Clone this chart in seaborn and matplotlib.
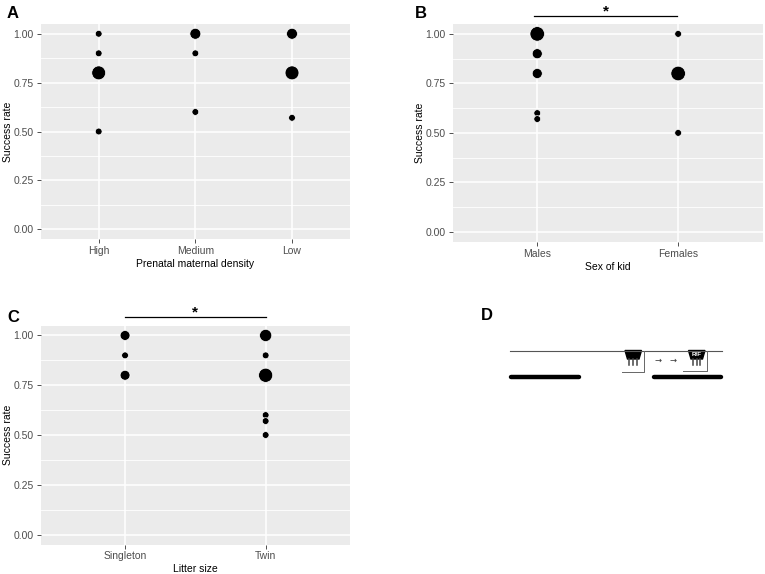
import matplotlib
matplotlib.use("Agg")
import matplotlib.pyplot as plt
import seaborn as sns
import pandas as pd
import numpy as np
from matplotlib.patches import Polygon, Rectangle

# ---------------- data ----------------
density_cats = ["High", "Medium", "Low"]
density_x = ["High", "High", "High", "High", "Medium", "Medium", "Medium", "Low", "Low", "Low"]
density_rate = [1.00, 0.90, 0.80, 0.50, 1.00, 0.90, 0.60, 1.00, 0.80, 0.57]
density_n = [1, 1, 3, 1, 2, 1, 1, 2, 3, 1]

sex_cats = ["Males", "Females"]
sex_x = ["Males", "Males", "Males", "Males", "Males", "Females", "Females", "Females"]
sex_rate = [1.00, 0.90, 0.80, 0.60, 0.57, 1.00, 0.80, 0.50]
sex_n = [4, 2, 2, 1, 1, 1, 4, 1]

litter_cats = ["Singleton", "Twin"]
litter_x = ["Singleton", "Singleton", "Singleton", "Twin", "Twin", "Twin", "Twin", "Twin", "Twin"]
litter_rate = [1.00, 0.90, 0.80, 1.00, 0.90, 0.80, 0.60, 0.57, 0.50]
litter_n = [2, 1, 2, 3, 1, 4, 1, 1, 1]

y_ticks = [0.00, 0.25, 0.50, 0.75, 1.00]
y_minor = [0.125, 0.375, 0.625, 0.875]

W, H = 765, 574
fig = plt.figure(figsize=(W / 100, H / 100), dpi=100)
FONT = ["Liberation Sans", "DejaVu Sans"]
plt.rcParams["font.family"] = FONT


def ax_rect(l, t, r, b):
    return [l / W, 1 - b / H, (r - l) / W, (b - t) / H]


def gg_panel(rect, cats, xs, ys, ns, xlabel, size_range):
    ax = fig.add_axes(rect)
    ax.set_facecolor("#EBEBEB")
    df = pd.DataFrame({"cat": pd.Categorical(xs, categories=cats), "rate": ys, "n": ns})
    df["pos"] = df["cat"].cat.codes
    for v in y_ticks:
        ax.axhline(v, color="white", lw=1.1, zorder=0)
    for v in y_minor:
        ax.axhline(v, color="white", lw=0.6, zorder=0)
    for i in range(len(cats)):
        ax.axvline(i, color="white", lw=1.1, zorder=0)
    sns.scatterplot(data=df, x="pos", y="rate", size="n", sizes=size_range,
                    color="black", edgecolor="white", linewidth=0.5,
                    legend=False, ax=ax, zorder=3)
    ax.set_xlim(-0.6, len(cats) - 1 + 0.6)
    ax.set_ylim(-0.05, 1.05)
    ax.set_xticks(range(len(cats)))
    ax.set_xticklabels(cats)
    ax.set_yticks(y_ticks)
    ax.set_yticklabels([f"{v:.2f}" for v in y_ticks])
    for s in ax.spines.values():
        s.set_visible(False)
    ax.tick_params(axis="both", length=3, width=0.6, color="#333333",
                   labelcolor="#4D4D4D", labelsize=7.5, pad=2)
    ax.set_xlabel(xlabel, fontsize=7.5, color="black", labelpad=2)
    ax.set_ylabel("Success rate", fontsize=7.5, color="black", labelpad=0.5)
    ax.grid(False)
    return ax


axA = gg_panel(ax_rect(40.7, 24, 350, 239), density_cats, density_x, density_rate,
               density_n, "Prenatal maternal density", (24, 100))
axB = gg_panel(ax_rect(452.7, 24, 762.7, 241.8), sex_cats, sex_x, sex_rate,
               sex_n, "Sex of kid", (24, 110))
axC = gg_panel(ax_rect(40.7, 325.5, 350, 544.5), litter_cats, litter_x, litter_rate,
               litter_n, "Litter size", (24, 104))


def sig(ax, x0, x1, ybar):
    ax.plot([x0, x1], [ybar, ybar], color="black", lw=0.9, clip_on=False)
    ax.text((x0 + x1) / 2, ybar + 0.003, "*", ha="center", va="baseline",
            fontsize=11, fontweight="bold", clip_on=False)

sig(axB, -0.02, 0.99, 1.092)
sig(axC, 0.0, 1.0, 1.092)

for lbl, x, y in [("A", 7, 13), ("B", 415, 13), ("C", 7, 317), ("D", 481, 316)]:
    fig.text(x / W, 1 - y / H, lbl, fontsize=12, fontweight="bold",
             ha="left", va="center", family=FONT)

# ---------------- panel D schematic ----------------
axD = fig.add_axes([0, 0, 1, 1])
axD.set_xlim(0, W)
axD.set_ylim(H, 0)
axD.axis("off")
axD.patch.set_alpha(0)

axD.plot([510, 722], [350.5, 350.5], color="#555555", lw=0.8)
axD.plot([511.5, 579], [376.5, 376.5], color="black", lw=3.2, solid_capstyle="round")
axD.plot([654.5, 721.5], [376.5, 376.5], color="black", lw=3.2, solid_capstyle="round")


def feeder(x0, x1, xl, xr, ybr, label=None):
    w = x1 - x0
    poly = Polygon([(x0, 350.5), (x1, 350.5), (x1 - 2.5, 359), (x0 + 2.5, 359)],
                   closed=True, color="black")
    axD.add_patch(poly)
    for k in range(3):
        xx = x0 + 4.5 + k * (w - 9) / 2
        axD.plot([xx, xx], [359, 365], color="#444444", lw=1.1)
    axD.plot([xl, xr, xr], [ybr, ybr, 350.5], color="#666666", lw=0.7)
    if label:
        axD.text((x0 + x1) / 2, 355, label, color="white", fontsize=4.5,
                 ha="center", va="center", fontweight="bold")

feeder(625, 641.5, 622, 644.5, 371.5)
feeder(688.5, 705, 683, 707, 370.5, "R/F")
for xa in (654.5, 669.5):
    axD.text(xa, 360.5, "→", fontsize=6, color="#333333", ha="left",
             va="center", family=["DejaVu Sans"])

fig.savefig("out.png", dpi=100, facecolor="white")
